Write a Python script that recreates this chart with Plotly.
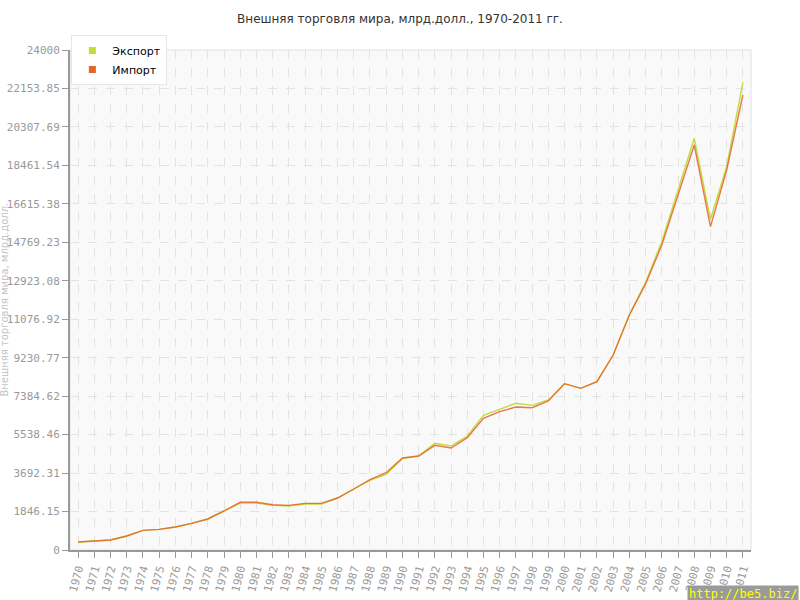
import plotly.graph_objects as go

years = [str(y) for y in range(1970, 2012)]

# млрд. долл.
export = [384, 416, 480, 672, 944, 992, 1104, 1280, 1488, 1872,
          2250, 2250, 2140, 2110, 2210, 2210, 2496, 2928, 3340, 3632,
          4384, 4512, 5120, 4992, 5472, 6464, 6768, 7040, 6944, 7200,
          7984, 7760, 8080, 9360, 11300, 12848, 14800, 17312, 19760, 15872,
          18400, 22448]
imports = [384, 416, 480, 672, 944, 992, 1104, 1280, 1488, 1872,
           2290, 2290, 2170, 2140, 2240, 2240, 2496, 2928, 3380, 3712,
           4416, 4512, 5024, 4896, 5392, 6320, 6640, 6864, 6832, 7152,
           7984, 7760, 8080, 9360, 11280, 12768, 14640, 17040, 19440, 15520,
           18240, 21840]

y_tickvals = [24000 * k / 13 for k in range(14)]
y_ticktext = ["0", "1846.15", "3692.31", "5538.46", "7384.62", "9230.77",
              "11076.92", "12923.08", "14769.23", "16615.38", "18461.54",
              "20307.69", "22153.85", "24000"]

green = "#bfdf3a"
orange = "#e8622c"

fig = go.Figure()

# lines (import drawn last so it sits on top, like the original)
fig.add_trace(go.Scatter(x=years, y=export, mode="lines", showlegend=False,
                         line=dict(color=green, width=1.4)))
fig.add_trace(go.Scatter(x=years, y=imports, mode="lines", showlegend=False,
                         line=dict(color=orange, width=1.4), opacity=0.85))

# square legend swatches
fig.add_trace(go.Scatter(x=[None], y=[None], mode="markers", name="Экспорт",
                         marker=dict(symbol="square", size=7, color=green)))
fig.add_trace(go.Scatter(x=[None], y=[None], mode="markers", name="Импорт",
                         marker=dict(symbol="square", size=7, color=orange)))

tick_font = dict(family="DejaVu Sans Mono", size=11, color="#999999")

fig.update_layout(
    width=800, height=600,
    margin=dict(l=70, r=49, t=50, b=50, autoexpand=False),
    paper_bgcolor="white",
    plot_bgcolor="#f9f9f9",
    title=dict(text="Внешняя торговля мира, млрд.долл., 1970-2011 гг.",
               x=0.5, xanchor="center", y=0.968, yanchor="middle",
               font=dict(family="DejaVu Sans", size=12, color="#333333")),
    legend=dict(x=0.002, y=1.03, xanchor="left", yanchor="top",
                bgcolor="white", bordercolor="#e6e6e6", borderwidth=1,
                font=dict(family="DejaVu Sans", size=11, color="#000000"),
                itemwidth=30, tracegroupgap=0),
    xaxis=dict(type="category", range=[-0.5, 41.5], automargin=False,
               tickangle=-75, tickfont=tick_font,
               showline=True, linecolor="#999999", linewidth=2,
               ticks="outside", ticklen=6, tickcolor="#999999",
               showgrid=True, gridcolor="#e3e3e3", griddash="dash",
               gridwidth=1, mirror=False, zeroline=False),
    yaxis=dict(range=[0, 24000], tickmode="array", automargin=False,
               tickvals=y_tickvals, ticktext=y_ticktext, tickfont=tick_font,
               showline=True, linecolor="#999999", linewidth=2,
               ticks="outside", ticklen=6, tickcolor="#999999",
               showgrid=True, gridcolor="#e3e3e3", griddash="dash",
               gridwidth=1, zeroline=False),
    shapes=[dict(type="rect", xref="paper", yref="paper", x0=0, x1=1, y0=0, y1=1,
                 line=dict(color="#e0e0e0", width=1), layer="below")],
    annotations=[
        dict(text="Внешняя торговля мира, млрд.долл.", textangle=-90,
             xref="paper", yref="paper", x=-0.0975, y=0.5,
             xanchor="center", yanchor="middle", showarrow=False,
             font=dict(family="DejaVu Sans", size=10, color="#c4c4c4")),
        dict(text="http://be5.biz/", xref="paper", yref="paper",
             x=1.071, y=-0.07, xanchor="right", yanchor="top", showarrow=False,
             bgcolor="#9a9a9a", borderpad=1,
             font=dict(family="DejaVu Sans Mono", size=12, color="#ffff00")),
    ],
)

fig.write_html("out.html", config={"displayModeBar": False},
               post_script="document.body.style.margin='0';")
